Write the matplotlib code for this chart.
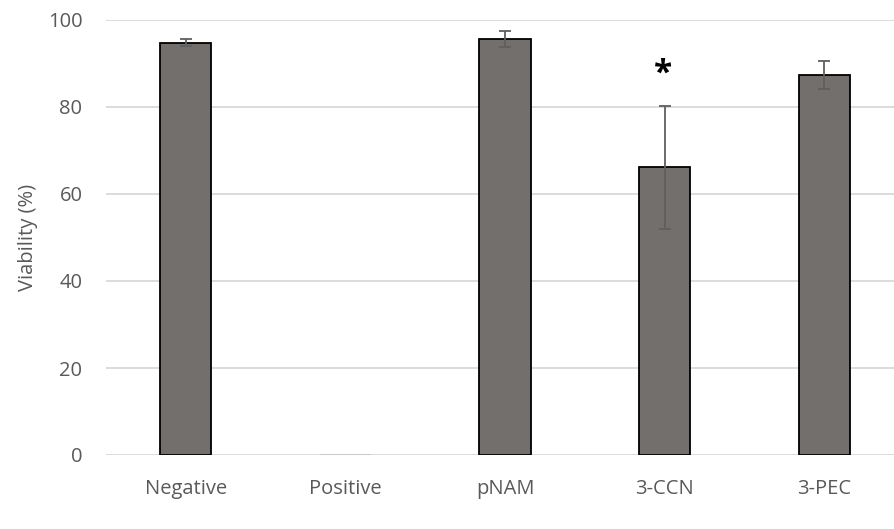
import numpy as np
import matplotlib.pyplot as plt

# Data
groups = ['Negative', 'Positive', 'pNAM', '3-CCN', '3-PEC']
viability = [94.8, 0.0, 95.6, 66.1, 87.4]
errors = [0.85, 0.0, 1.9, 14.2, 3.25]
star_groups = ['3-CCN']
star_height = 87.5

plt.rcParams['font.family'] = ['Open Sans', 'DejaVu Sans']

fig = plt.figure(figsize=(8.95, 5.29), dpi=100)
ax = fig.add_axes([106/895, 74/529, 798/895, 435/529])

x = np.arange(len(groups))
vals = np.array(viability)
errs = np.array(errors)
edges = ['black' if v > 0 else '#c8c8c8' for v in vals]
ax.bar(x, vals, width=0.32, color='#736f6d', edgecolor=edges, linewidth=1.3, zorder=3)
has_err = errs > 0
ax.errorbar(x[has_err], vals[has_err], yerr=errs[has_err], fmt='none', ecolor='#5f5f5f',
            elinewidth=1.3, capsize=4.3, capthick=1.3, zorder=4)

for g in star_groups:
    i = groups.index(g)
    ax.text(x[i] - 0.01, star_height, '*', ha='center', va='center', fontsize=24,
            fontweight='bold', color='black', zorder=5)

ax.set_xlim(-0.5, len(groups) - 0.5)
ax.set_ylim(0, 100)
ax.set_yticks(np.arange(0, 101, 20))
ax.set_xticks(x)
ax.set_xticklabels(groups)
ax.yaxis.grid(True, color='#d9d9d9', linewidth=1.3, zorder=0)
ax.set_axisbelow(True)
for s in ax.spines.values():
    s.set_visible(False)
ax.tick_params(axis='both', length=0, labelsize=14.5, colors='#595959')
ax.tick_params(axis='y', pad=17)
ax.tick_params(axis='x', pad=17)
ax.set_ylabel('Viability (%)', fontsize=14.5, color='#595959', labelpad=7)

fig.savefig('out.png', dpi=100)
